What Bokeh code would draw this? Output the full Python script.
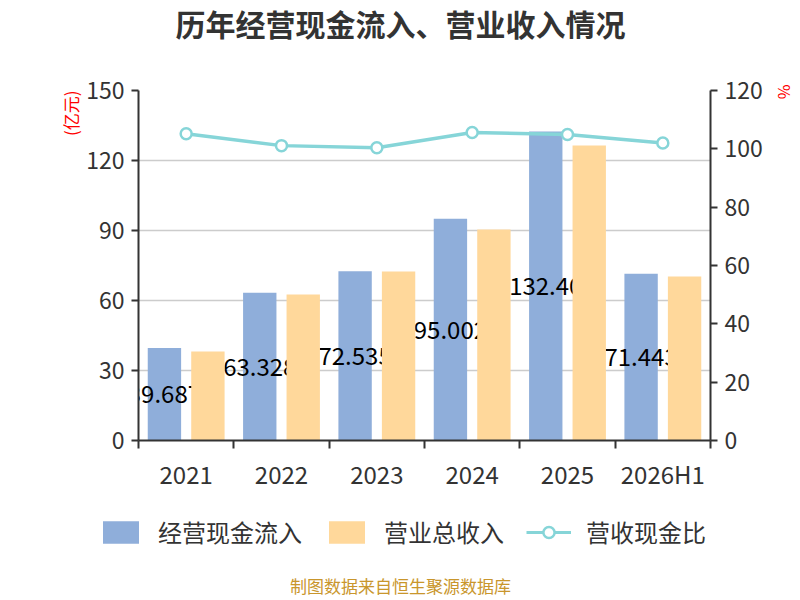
import numpy as np
from bokeh.plotting import figure
from bokeh.layouts import column
from bokeh.models import (ColumnDataSource, LinearAxis, Range1d, FixedTicker,
                          Legend, LegendItem, Label, Title)
from bokeh.transform import dodge
from bokeh.core.properties import value
from bokeh.embed import file_html
from bokeh.resources import INLINE

years = ["2021", "2022", "2023", "2024", "2025", "2026H1"]
cash_in = [39.687, 63.328, 72.535, 95.002, 132.40, 71.443]
revenue = [38.1, 62.6, 72.4, 90.4, 126.4, 70.3]
ratio = [105.2, 101.1, 100.4, 105.6, 104.9, 102.0]

FONT = "Noto Sans CJK SC"
BLUE = "#8faeda"
ORANGE = "#ffd89b"
TEAL = "#86d5d8"
TXT = "#333333"


def no_align(fig):
    if "frame_align" in fig.properties():
        fig.frame_align = False


# title strip
top = figure(frame_width=572, height=62, output_backend="svg", toolbar_location=None,
             x_range=Range1d(138, 710), y_range=Range1d(0, 62),
             min_border_left=138, min_border_right=88, min_border_top=0,
             min_border_bottom=0, x_axis_location=None, y_axis_location=None)
top.grid.visible = False
top.outline_line_color = None
top.add_layout(Label(x=400, y=40, text="历年经营现金流入、营业收入情况",
                     text_align="center", text_baseline="middle", text_font=FONT,
                     text_font_size="30px", text_font_style="bold", text_color=TXT))
no_align(top)

idx = np.arange(len(years))
centers = idx + 0.5
src = ColumnDataSource(dict(x=centers, cash=cash_in, rev=revenue, ratio=ratio,
                            cash_mid=[v / 2 for v in cash_in],
                            cash_txt=["%.2f" % v if v >= 100 else "%.3f" % v for v in cash_in]))

p = figure(frame_width=572, frame_height=350, output_backend="svg", toolbar_location=None,
           x_range=Range1d(0, len(years)), y_range=Range1d(0, 150),
           min_border_left=138, min_border_right=88, min_border_top=28,
           min_border_bottom=48)
p.title.text = ""
p.outline_line_color = None
p.xgrid.grid_line_color = None
p.ygrid.grid_line_color = "#cccccc"
p.ygrid.grid_line_width = 1.5
no_align(p)

p.extra_y_ranges = {"pct": Range1d(0, 120)}

# x axis: labels at category centres, ticks between categories
xa = p.xaxis[0]
xa.ticker = FixedTicker(ticks=list(centers), minor_ticks=list(range(len(years) + 1)))
xa.major_label_overrides = {float(c): y for c, y in zip(centers, years)}
xa.major_tick_out = 0
xa.major_tick_in = 0
xa.minor_tick_out = 8
xa.minor_tick_in = 0
xa.minor_tick_line_color = TXT
xa.minor_tick_line_width = 2

ya = p.yaxis[0]
ya.ticker = FixedTicker(ticks=[0, 30, 60, 90, 120, 150])
ya.minor_tick_line_color = None

ra = LinearAxis(y_range_name="pct", ticker=FixedTicker(ticks=[0, 20, 40, 60, 80, 100, 120]))
ra.minor_tick_line_color = None
p.add_layout(ra, "right")

for ax in (xa, ya, ra):
    ax.axis_line_color = TXT
    ax.axis_line_width = 2
    ax.major_tick_line_color = TXT
    ax.major_tick_line_width = 2
    ax.major_label_text_font = FONT
    ax.major_label_text_font_size = "23px"
    ax.major_label_text_color = TXT
    ax.major_label_standoff = 7
for ax in (ya, ra):
    ax.major_tick_out = 7
    ax.major_tick_in = 0
xa.major_label_text_font_size = "24px"

p.vbar(x=dodge("x", -0.228, range=p.x_range), top="cash", width=0.35,
       source=src, fill_color=BLUE, line_color=None)
p.text(x=dodge("x", -0.228, range=p.x_range), y="cash_mid", text="cash_txt",
       source=src, text_align="center", text_baseline="middle",
       text_font=value(FONT), text_font_size="24px", text_color="black")
p.vbar(x=dodge("x", 0.228, range=p.x_range), top="rev", width=0.35,
       source=src, fill_color=ORANGE, line_color=None)
p.line(x="x", y="ratio", source=src, y_range_name="pct",
       line_color=TEAL, line_width=3.5)
p.scatter(x="x", y="ratio", source=src, y_range_name="pct", size=11,
          fill_color="white", line_color=TEAL, line_width=2.5)

p.add_layout(Title(text="(亿元)", align="right", text_font=FONT, text_font_size="17px",
                   text_font_style="normal", text_color="red", standoff=2), "left")
p.add_layout(Title(text="%", align="left", text_font=FONT, text_font_size="16px",
                   text_font_style="normal", text_color="red", standoff=14,
                   offset=-6), "right")

# legend and source note in a strip below the chart
leg = figure(width=798, height=108, output_backend="svg", toolbar_location=None,
             x_range=Range1d(0, 798), y_range=Range1d(0, 108), min_border=0,
             x_axis_location=None, y_axis_location=None)
leg.grid.visible = False
leg.outline_line_color = None
no_align(leg)
blank = ColumnDataSource(dict(x=[np.nan], y=[np.nan]))
r1 = leg.vbar(x="x", top="y", width=1, source=blank, fill_color=BLUE, line_color=None)
r2 = leg.vbar(x="x", top="y", width=1, source=blank, fill_color=ORANGE, line_color=None)
r3 = leg.line(x="x", y="y", source=blank, line_color=TEAL, line_width=3)
r4 = leg.scatter(x="x", y="y", source=blank, size=24, fill_color="white",
                 line_color=TEAL, line_width=2.5)
legend = Legend(items=[LegendItem(label="经营现金流入", renderers=[r1]),
                       LegendItem(label="营业总收入", renderers=[r2]),
                       LegendItem(label="营收现金比", renderers=[r3, r4])],
                orientation="horizontal", location=(98, 52),
                glyph_width=45, glyph_height=28, spacing=22, label_standoff=15,
                label_text_font=FONT, label_text_font_size="24px",
                label_text_color=TXT, border_line_color=None,
                background_fill_alpha=0, padding=0, margin=0)
leg.add_layout(legend)
leg.add_layout(Label(x=400, y=16, text="制图数据来自恒生聚源数据库",
                     text_align="center", text_baseline="middle", text_font=FONT,
                     text_font_size="17px", text_color="#c9962c"))

open("out.html", "w").write(file_html(column(top, p, leg), INLINE))
